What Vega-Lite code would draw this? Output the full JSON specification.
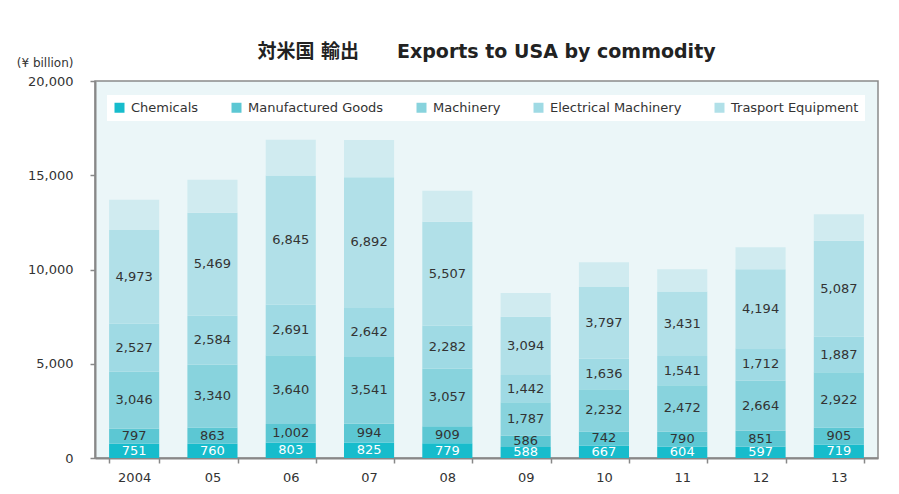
{
  "$schema": "https://vega.github.io/schema/vega-lite/v6.json",
  "width": 783,
  "height": 377,
  "autosize": "none",
  "padding": {"left": 95, "top": 81, "right": 21, "bottom": 36},
  "background": "white",
  "title": {
    "text": "対米国 輸出\u3000\u3000Exports to USA by commodity",
    "font": "DejaVu Sans, Noto Sans CJK JP",
    "fontSize": 19,
    "fontWeight": "bold",
    "color": "#222",
    "anchor": "middle",
    "frame": "group",
    "offset": 0,
    "dy": 6
  },
  "data": {
    "values": [
      {"year": "2004", "series": "Chemicals", "idx": 1, "value": 751},
      {"year": "2004", "series": "Manufactured Goods", "idx": 2, "value": 797},
      {"year": "2004", "series": "Machinery", "idx": 3, "value": 3046},
      {"year": "2004", "series": "Electrical Machinery", "idx": 4, "value": 2527},
      {"year": "2004", "series": "Trasport Equipment", "idx": 5, "value": 4973},
      {"year": "2004", "series": "Others", "idx": 6, "value": 1610},
      {"year": "05", "series": "Chemicals", "idx": 1, "value": 760},
      {"year": "05", "series": "Manufactured Goods", "idx": 2, "value": 863},
      {"year": "05", "series": "Machinery", "idx": 3, "value": 3340},
      {"year": "05", "series": "Electrical Machinery", "idx": 4, "value": 2584},
      {"year": "05", "series": "Trasport Equipment", "idx": 5, "value": 5469},
      {"year": "05", "series": "Others", "idx": 6, "value": 1750},
      {"year": "06", "series": "Chemicals", "idx": 1, "value": 803},
      {"year": "06", "series": "Manufactured Goods", "idx": 2, "value": 1002},
      {"year": "06", "series": "Machinery", "idx": 3, "value": 3640},
      {"year": "06", "series": "Electrical Machinery", "idx": 4, "value": 2691},
      {"year": "06", "series": "Trasport Equipment", "idx": 5, "value": 6845},
      {"year": "06", "series": "Others", "idx": 6, "value": 1900},
      {"year": "07", "series": "Chemicals", "idx": 1, "value": 825},
      {"year": "07", "series": "Manufactured Goods", "idx": 2, "value": 994},
      {"year": "07", "series": "Machinery", "idx": 3, "value": 3541},
      {"year": "07", "series": "Electrical Machinery", "idx": 4, "value": 2642},
      {"year": "07", "series": "Trasport Equipment", "idx": 5, "value": 6892},
      {"year": "07", "series": "Others", "idx": 6, "value": 1980},
      {"year": "08", "series": "Chemicals", "idx": 1, "value": 779},
      {"year": "08", "series": "Manufactured Goods", "idx": 2, "value": 909},
      {"year": "08", "series": "Machinery", "idx": 3, "value": 3057},
      {"year": "08", "series": "Electrical Machinery", "idx": 4, "value": 2282},
      {"year": "08", "series": "Trasport Equipment", "idx": 5, "value": 5507},
      {"year": "08", "series": "Others", "idx": 6, "value": 1650},
      {"year": "09", "series": "Chemicals", "idx": 1, "value": 588},
      {"year": "09", "series": "Manufactured Goods", "idx": 2, "value": 586},
      {"year": "09", "series": "Machinery", "idx": 3, "value": 1787},
      {"year": "09", "series": "Electrical Machinery", "idx": 4, "value": 1442},
      {"year": "09", "series": "Trasport Equipment", "idx": 5, "value": 3094},
      {"year": "09", "series": "Others", "idx": 6, "value": 1250},
      {"year": "10", "series": "Chemicals", "idx": 1, "value": 667},
      {"year": "10", "series": "Manufactured Goods", "idx": 2, "value": 742},
      {"year": "10", "series": "Machinery", "idx": 3, "value": 2232},
      {"year": "10", "series": "Electrical Machinery", "idx": 4, "value": 1636},
      {"year": "10", "series": "Trasport Equipment", "idx": 5, "value": 3797},
      {"year": "10", "series": "Others", "idx": 6, "value": 1310},
      {"year": "11", "series": "Chemicals", "idx": 1, "value": 604},
      {"year": "11", "series": "Manufactured Goods", "idx": 2, "value": 790},
      {"year": "11", "series": "Machinery", "idx": 3, "value": 2472},
      {"year": "11", "series": "Electrical Machinery", "idx": 4, "value": 1541},
      {"year": "11", "series": "Trasport Equipment", "idx": 5, "value": 3431},
      {"year": "11", "series": "Others", "idx": 6, "value": 1180},
      {"year": "12", "series": "Chemicals", "idx": 1, "value": 597},
      {"year": "12", "series": "Manufactured Goods", "idx": 2, "value": 851},
      {"year": "12", "series": "Machinery", "idx": 3, "value": 2664},
      {"year": "12", "series": "Electrical Machinery", "idx": 4, "value": 1712},
      {"year": "12", "series": "Trasport Equipment", "idx": 5, "value": 4194},
      {"year": "12", "series": "Others", "idx": 6, "value": 1160},
      {"year": "13", "series": "Chemicals", "idx": 1, "value": 719},
      {"year": "13", "series": "Manufactured Goods", "idx": 2, "value": 905},
      {"year": "13", "series": "Machinery", "idx": 3, "value": 2922},
      {"year": "13", "series": "Electrical Machinery", "idx": 4, "value": 1887},
      {"year": "13", "series": "Trasport Equipment", "idx": 5, "value": 5087},
      {"year": "13", "series": "Others", "idx": 6, "value": 1410}
    ]
  },
  "transform": [
    {"stack": "value", "groupby": ["year"], "sort": [{"field": "idx", "order": "ascending"}], "as": ["v0", "v1"]},
    {"calculate": "(datum.v0 + datum.v1) / 2", "as": "mid"}
  ],
  "encoding": {
    "x": {
      "field": "year",
      "type": "nominal",
      "sort": null,
      "scale": {"paddingInner": 0.36, "paddingOuter": 0.18},
      "axis": {
        "title": null,
        "labelAngle": 0,
        "tickBand": "extent",
        "tickSize": 5,
        "tickColor": "#888",
        "tickWidth": 1.5,
        "labelPadding": 8,
        "domainColor": "#888",
        "domainWidth": 2
      }
    }
  },
  "layer": [
    {
      "mark": {"type": "bar"},
      "encoding": {
        "y": {
          "field": "v0",
          "type": "quantitative",
          "scale": {"domain": [0, 20000], "nice": false},
          "axis": {
            "title": "(¥ billion)",
            "titleAngle": 0,
            "titleAlign": "right",
            "titleBaseline": "middle",
            "titleX": -22,
            "titleY": -19,
            "titleFont": "DejaVu Sans",
            "titleFontSize": 12,
            "titleFontWeight": "normal",
            "titleColor": "#333",
            "values": [0, 5000, 10000, 15000, 20000],
            "format": ",.0f",
            "grid": false,
            "tickSize": 5,
            "tickColor": "#888",
            "tickWidth": 1.5,
            "labelPadding": 17,
            "domainColor": "#888",
            "domainWidth": 2
          }
        },
        "y2": {"field": "v1"},
        "color": {
          "field": "series",
          "type": "nominal",
          "scale": {
            "domain": ["Chemicals", "Manufactured Goods", "Machinery", "Electrical Machinery", "Trasport Equipment", "Others"],
            "range": ["#17bccc", "#5cc7d3", "#88d3dd", "#9fdae4", "#b1e0e8", "#d0ebf0"]
          },
          "legend": {
            "title": null,
            "values": ["Chemicals", "Manufactured Goods", "Machinery", "Electrical Machinery", "Trasport Equipment"],
            "orient": "none",
            "legendX": 12,
            "legendY": 14,
            "direction": "horizontal",
            "columns": 5,
            "columnPadding": 31,
            "fillColor": "white",
            "padding": 6,
            "symbolType": "square",
            "symbolSize": 100,
            "symbolStrokeWidth": 0,
            "labelOffset": 5,
            "labelFont": "DejaVu Sans",
            "labelFontSize": 13,
            "labelColor": "#333"
          }
        }
      }
    },
    {
      "transform": [{"filter": "datum.series !== 'Others'"}],
      "mark": {"type": "text", "font": "DejaVu Sans", "fontSize": 13, "baseline": "middle", "align": "center"},
      "encoding": {
        "y": {"field": "mid", "type": "quantitative"},
        "text": {"field": "value", "type": "quantitative", "format": ","},
        "color": {
          "condition": {"test": "datum.series === 'Chemicals'", "value": "white"},
          "value": "#333"
        }
      }
    }
  ],
  "config": {
    "view": {"fill": "#ebf6f8", "stroke": "#8a8a8a", "strokeWidth": 1.5},
    "axis": {"labelFont": "DejaVu Sans", "labelFontSize": 13, "labelColor": "#333"}
  }
}
